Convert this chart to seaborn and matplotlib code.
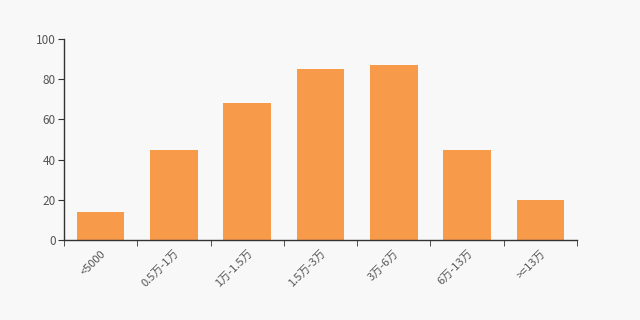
import matplotlib
matplotlib.use("Agg")
import matplotlib.pyplot as plt
import seaborn as sns
import pandas as pd

categories = ["<5000", "0.5万-1万", "1万-1.5万", "1.5万-3万", "3万-6万", "6万-13万", ">=13万"]
values = [14, 45, 68, 85, 87, 45, 20]

sns.set_style("ticks")
plt.rcParams['font.family'] = ['Noto Sans CJK SC', 'DejaVu Sans']

bg = "#f8f8f8"
fig = plt.figure(figsize=(6.4, 3.2), dpi=100, facecolor=bg)
ax = fig.add_axes([0.1, 0.25, 0.8016, 0.628])
ax.set_facecolor(bg)

df = pd.DataFrame({"cat": categories, "val": values})
sns.barplot(data=df, x="cat", y="val", color="#f79a4a", saturation=1, width=0.65,
            linewidth=0, edgecolor="none", ax=ax)

ax.set_xlim(-0.5, len(categories) - 0.5)
ax.set_ylim(0, 100)
ax.set_yticks([0, 20, 40, 60, 80, 100])
ax.set_xlabel("")
ax.set_ylabel("")
ax.set_xticks(range(len(categories)))
ax.set_xticklabels(categories, rotation=45, ha="right", rotation_mode="anchor", fontsize=8, color="#555555")
ax.tick_params(axis="x", length=0, pad=6)
ax.set_xticks([i + 0.5 for i in range(-1, len(categories))], minor=True)
ax.tick_params(axis="x", which="minor", length=4, color="#333333")
ax.tick_params(axis="y", labelsize=8.5, labelcolor="#555555", length=4, color="#333333", pad=2)
for s in ["top", "right"]:
    ax.spines[s].set_visible(False)
for s in ["left", "bottom"]:
    ax.spines[s].set_color("#333333")
    ax.spines[s].set_linewidth(1)

fig.savefig("out.png", dpi=100, facecolor=bg)
